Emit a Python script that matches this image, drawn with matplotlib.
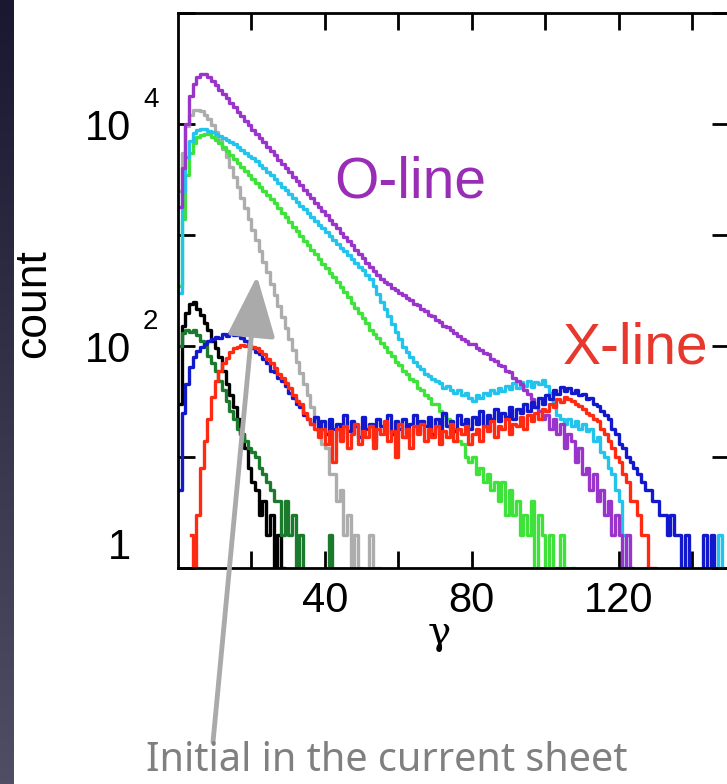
import numpy as np
import matplotlib.pyplot as plt
from matplotlib.colors import LinearSegmentedColormap
from matplotlib.transforms import blended_transform_factory, offset_copy

plt.rcParams['font.family'] = ['Liberation Sans', 'DejaVu Sans']

# histogram counts per unit gamma bin, first bin starts at the given gamma
purple_start = 0
purple_counts = [1800, 4000, 10000, 17800, 22900, 26300, 28200, 28200, 26500, 24500,
                 22400, 20400, 18600, 17000, 15500, 14100, 12900, 11700, 10700, 9800,
                 8900, 8150, 7450, 6820, 6240, 5710, 5220, 4780, 4370, 4000,
                 3660, 3350, 3060, 2800, 2560, 2350, 2150, 1960, 1800, 1640,
                 1500, 1375, 1260, 1150, 1050, 965, 880, 805, 740, 675,
                 620, 565, 520, 475, 435, 400, 378, 360, 335, 322,
                 300, 290, 270, 258, 240, 232, 215, 206, 192, 185,
                 172, 165, 152, 148, 138, 130, 124, 116, 112, 104,
                 104, 96, 92, 86, 84, 76, 74, 68, 66, 60,
                 58, 52, 48, 45, 40, 37, 33, 28, 26, 22,
                 24, 18, 22, 16, 20, 12, 16, 14, 9, 12,
                 7, 8, 5, 7, 4, 5, 3, 4, 2, 3,
                 2, 1, 2, 1, 0]

gray_start = 0
gray_counts = [2500, 5500, 9500, 12000, 13300, 13500, 13000, 12000, 11000, 9800,
               8500, 7200, 6000, 5000, 4100, 3300, 2700, 2150, 1750, 1400,
               1120, 900, 720, 575, 460, 365, 290, 230, 182, 145,
               115, 92, 72, 57, 45, 36, 28, 22, 18, 13,
               12, 7, 7, 4, 5, 2, 3, 1, 2, 1,
               0, 0, 2, 0, 1, 0]

cyan_start = 0
cyan_counts = [300, 2500, 5000, 7000, 8300, 8900, 9100, 9000, 8700, 8400,
               8100, 7800, 7500, 7200, 6900, 6550, 6200, 5850, 5500, 5200,
               4900, 4600, 4300, 4000, 3700, 3450, 3200, 2950, 2730, 2520,
               2330, 2150, 1990, 1840, 1700, 1570, 1450, 1340, 1240, 1145,
               1060, 980, 905, 835, 770, 715, 660, 610, 560, 520,
               480, 440, 405, 345, 295, 250, 215, 185, 158, 134,
               115, 98, 88, 80, 72, 66, 62, 56, 54, 50,
               48, 46, 42, 44, 40, 38, 40, 36, 38, 34,
               32, 36, 34, 38, 36, 40, 38, 42, 39, 44,
               41, 46, 42, 47, 44, 48, 43, 47, 45, 49,
               44, 38, 30, 24, 22, 20, 22, 19, 21, 18,
               20, 17, 18, 14, 15, 11, 10, 8, 7, 5,
               4, 2, 1, 0, 0, 0, 0, 0, 0, 0,
               0, 0, 0, 0, 0, 0, 0, 0, 0, 0,
               0, 0, 0, 0, 0, 0, 0, 2, 1, 0]

lime_start = 0
lime_counts = [350, 1400, 3500, 5500, 6800, 7600, 8000, 8200, 8100, 7700,
               7200, 6700, 6200, 5700, 5250, 4850, 4450, 4100, 3780, 3480,
               3200, 2950, 2700, 2480, 2280, 2100, 1930, 1750, 1590, 1445,
               1310, 1190, 1080, 980, 890, 810, 735, 670, 605, 550,
               500, 455, 415, 380, 340, 305, 275, 245, 220, 200,
               178, 160, 140, 128, 118, 106, 98, 88, 82, 72,
               68, 60, 56, 50, 48, 42, 40, 36, 34, 30,
               30, 26, 24, 22, 18, 18, 14, 13, 10, 9,
               10, 7, 8, 6, 7, 5, 6, 4, 6, 3,
               5, 3, 4, 2, 3, 2, 4, 1, 3, 2,
               1, 2, 0, 1, 2, 1, 0, 1, 0]

black_start = 0
black_counts = [30, 150, 200, 240, 250, 215, 190, 160, 140, 110,
                95, 80, 60, 45, 36, 28, 22, 16, 12, 8,
                6, 5, 3, 4, 2, 3, 1, 2, 1, 0]

dkgreen_start = 0
dkgreen_counts = [100, 130, 140, 135, 140, 125, 110, 100, 82, 70,
                  60, 48, 40, 32, 26, 22, 18, 16, 14, 12,
                  11, 10, 8, 7, 6, 5, 4, 4, 2, 4,
                  2, 3, 1, 2, 0, 0, 0, 0, 0, 0,
                  0, 2, 0]

blue_start = 0
blue_counts = [5, 25, 45, 65, 80, 90, 98, 105, 110, 115,
               120, 118, 128, 122, 130, 125, 132, 118, 112, 100,
               96, 88, 84, 76, 70, 60, 58, 52, 48, 44,
               38, 34, 30, 28, 24, 22, 20, 23, 17, 21,
               16, 22, 18, 20, 15, 24, 17, 21, 19, 15,
               23, 18, 20, 14, 22, 19, 17, 24, 16, 21,
               18, 22, 15, 20, 24, 17, 21, 19, 23, 16,
               22, 18, 25, 19, 21, 17, 24, 20, 22, 18,
               23, 20, 26, 19, 24, 22, 27, 21, 25, 23,
               28, 22, 27, 25, 30, 26, 31, 28, 34, 30,
               36, 33, 40, 37, 43, 39, 42, 38, 40, 36,
               37, 33, 34, 30, 29, 26, 24, 22, 18, 16,
               13, 12, 10, 9, 8, 7, 6, 5, 5, 4,
               4, 3, 3, 2, 3, 2, 2, 1, 2, 0,
               0, 0, 0, 2, 0, 2, 0]

red_start = 3
red_counts = [2, 1, 3, 8, 14, 22, 35, 48, 60, 70,
              78, 88, 95, 98, 102, 100, 104, 98, 96, 90,
              84, 76, 70, 64, 56, 52, 46, 42, 36, 32,
              30, 25, 22, 20, 18, 15, 18, 13, 17, 9,
              18, 14, 19, 12, 16, 20, 13, 17, 15, 19,
              12, 18, 16, 21, 14, 17, 10, 20, 15, 18,
              12, 19, 16, 20, 14, 18, 15, 19, 13, 17,
              15, 20, 14, 18, 16, 19, 13, 16, 18, 14,
              19, 17, 21, 15, 19, 18, 22, 16, 20, 19,
              23, 18, 24, 21, 25, 22, 27, 26, 30, 28,
              33, 31, 35, 33, 32, 30, 29, 27, 25, 24,
              22, 21, 18, 16, 14, 12, 10, 9, 7, 6,
              4, 4, 3, 2, 2, 1, 1, 0]

series = [
    (gray_start, gray_counts, '#adadad'),
    (lime_start, lime_counts, '#3fe23a'),
    (cyan_start, cyan_counts, '#22c4ec'),
    (purple_start, purple_counts, '#9a35cc'),
    (black_start, black_counts, '#000000'),
    (dkgreen_start, dkgreen_counts, '#1c7a2c'),
    (blue_start, blue_counts, '#1218cc'),
    (red_start, red_counts, '#ff2a12'),
]

W, H = 727, 784
fig = plt.figure(figsize=(W / 100, H / 100), dpi=100)

# dark strip down the left edge
strip = fig.add_axes([0, 0, 14 / W, 1])
strip.imshow(np.linspace(0, 1, 256)[:, None], aspect='auto',
             cmap=LinearSegmentedColormap.from_list('strip', ['#181830', '#4e4e64']))
strip.set_axis_off()

ax = fig.add_axes([178 / W, 1 - 568 / H, 551 / W, 555 / H])
for start, counts, col in series:
    c = np.asarray(counts, dtype=float)
    g = start + np.arange(len(c)) + 0.5
    ax.plot(g, c, drawstyle='steps-mid', color=col, lw=2.4)

ax.set_yscale('log')
ax.set_xlim(0, 150)
ax.set_ylim(1, 1e5)

ax.set_xticks([20, 40, 60, 80, 100, 120, 140])
ax.set_xticklabels(['', '40', '', '80', '', '120', ''])
ax.set_yticks([1, 10, 100, 1000, 1e4, 1e5])
ax.set_yticklabels(['1', '', '10', '', '10', ''])
ax.minorticks_off()
ax.tick_params(direction='in', length=12, width=2, top=True, right=True,
               labelsize=30)
ax.tick_params(axis='x', pad=9)
ax.tick_params(axis='y', pad=34)
ax.get_yticklabels()[0].set_va('bottom')
for s in ax.spines.values():
    s.set_linewidth(2)

# exponents for the decade labels
trans = offset_copy(blended_transform_factory(ax.transAxes, ax.transData),
                    fig=fig, y=12, units='points')
for val, exp in [(100, '2'), (1e4, '4')]:
    ax.text(-0.0635, val, exp, transform=trans, fontsize=20,
            ha='left', va='baseline', clip_on=False)

ax.set_xlabel('γ', fontsize=28, family='DejaVu Serif')
ax.xaxis.set_label_coords(0.475, -0.085)
ax.set_ylabel('count', fontsize=32)
ax.yaxis.set_label_coords(-0.225, 0.477)

ax.text(0.421, 0.667, 'O-line', transform=ax.transAxes, fontsize=41,
        color='#9a2db5', ha='center', va='baseline')
ax.text(0.830, 0.369, 'X-line', transform=ax.transAxes, fontsize=41,
        color='#e8372c', ha='center', va='baseline')

ax.annotate('', xy=(257, H - 276), xycoords='figure pixels',
            xytext=(213, H - 742), textcoords='figure pixels',
            arrowprops=dict(arrowstyle='-|>,head_length=1.9,head_width=0.75',
                            mutation_scale=20, lw=3.5, color='#aaaaaa',
                            shrinkA=0, shrinkB=0),
            annotation_clip=False)

fig.text(387 / W, 1 - 771 / H, 'Initial in the current sheet', fontsize=28.5,
         family='Noto Sans', color='#808080', ha='center', va='baseline')

fig.savefig('out.png', dpi=100)
